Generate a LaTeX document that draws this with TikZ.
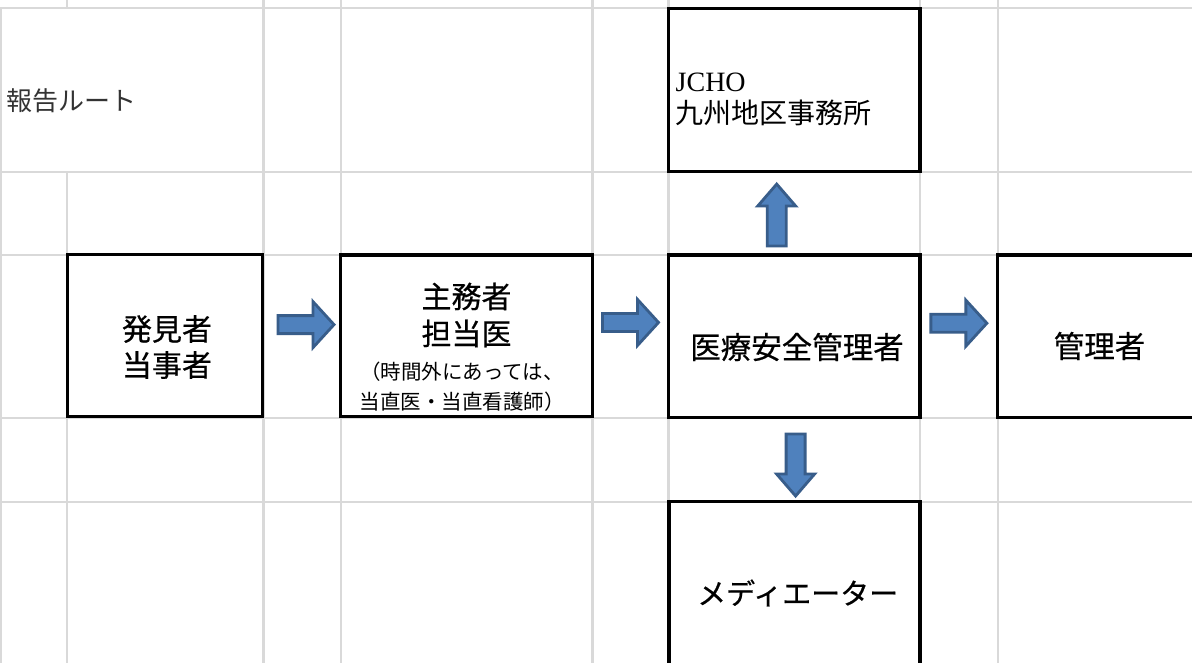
\documentclass[tikz,border=0pt]{standalone}
\usepackage{fontspec}
\setmainfont{Noto Sans CJK JP}
\newfontfamily\jpmed{Noto Sans CJK JP}[FakeBold=0.5]
\newfontfamily\latinserif{Liberation Serif}
\usetikzlibrary{calc}
\definecolor{gridc}{HTML}{D9D9D9}
\definecolor{arrfill}{HTML}{4F81BD}
\definecolor{arrdraw}{HTML}{385D8A}
\begin{document}
\begin{tikzpicture}[x=1pt,y=-1pt,
  gridline/.style={draw=gridc,line width=2.2pt},
  box/.style={draw=black,line width=3.4pt,fill=white,rectangle,inner sep=0pt},
  txt/.style={inner sep=0pt,align=center,text=black},
  barrow/.style={fill=arrfill,draw=arrdraw,line width=2.8pt,line join=miter},
  pics/harrow/.style={code={\path[barrow] (-28,-9) -- (7,-9) -- (7,-23) -- (28,0) -- (7,23) -- (7,9) -- (-28,9) -- cycle;}},
  pics/varrow/.style={code={\path[barrow] (-31,-9.5) -- (9,-9.5) -- (9,-19) -- (31,0) -- (9,19) -- (9,9.5) -- (-31,9.5) -- cycle;}}
]
\useasboundingbox (0,0) rectangle (1192,663);
\clip (0,0) rectangle (1192,663);
\fill[white] (0,0) rectangle (1192,663);
% spreadsheet grid
\foreach \y in {8.3,172.3,255.3,418.3,501.7} \draw[gridline] (0,\y) -- (1192,\y);
\draw[gridline] (1.3,8.3) -- (1.3,663);
\draw[gridline] (67,0) -- (67,8.3);
\draw[gridline] (67,172.3) -- (67,663);
\foreach \x in {263.5,340.7,592.5,668.5,920,997.7} \draw[gridline] (\x,0) -- (\x,663);
% boxes
\node[box,minimum width=195pt,minimum height=162pt] (hakken) at (165,335.5) {};
\node[box,minimum width=252pt,minimum height=161.5pt] (shumu) at (466.7,335.75) {};
\node[box,minimum width=251.7pt,minimum height=162.3pt] (iryo) at (794.2,336.2) {};
\node[box,minimum width=252pt,minimum height=162.3pt] (kanri) at (1123.7,336.2) {};
\node[box,minimum width=251.7pt,minimum height=163.4pt] (jcho) at (794.2,90) {};
\node[box,minimum width=251.2pt,minimum height=180pt] (medi) at (794.4,591.7) {};
% texts
\node[txt,anchor=west,font=\fontsize{26}{30}\selectfont,text=black!80] (title) at (6.5,100.3) {報告ルート};
\node[txt,font=\jpmed\fontsize{30}{36}\selectfont] (hakkenT) at (167,347) {発見者\\当事者};
\node[txt,font=\jpmed\fontsize{30}{37}\selectfont] (shumuT) at (466.5,315) {主務者\\担当医};
\node[txt,font=\fontsize{20.5}{30}\selectfont] (shumuS) at (462,386.7) {（時間外にあっては、\\当直医・当直看護師）};
\node[txt,font=\jpmed\fontsize{30.5}{36}\selectfont] (iryoT) at (797,347) {医療安全管理者};
\node[txt,font=\jpmed\fontsize{30.5}{36}\selectfont] (kanriT) at (1099.5,346) {管理者};
\node[txt,font=\jpmed\fontsize{29}{36}\selectfont] (mediT) at (797.7,593) {メディエーター};
\node[txt,align=left,anchor=west,font=\fontsize{28}{32}\selectfont] (jchoT) at (675.5,99.5) {{\latinserif JCHO}\\九州地区事務所};
% block arrows
\pic at ($(hakken.east)!0.5!(shumu.west)+(4.4,-11)$) {harrow};
\pic at ($(shumu.east)!0.5!(iryo.west)+(0,-13.5)$) {harrow};
\pic at ($(iryo.east)!0.5!(kanri.west)+(0,-13)$) {harrow};
\pic[rotate=90] at ($(iryo.north)!0.5!(jcho.south)+(-17.5,1.7)$) {varrow};
\pic[rotate=-90] at ($(iryo.south)!0.5!(medi.north)+(1.3,5.5)$) {varrow};
\end{tikzpicture}
\end{document}
